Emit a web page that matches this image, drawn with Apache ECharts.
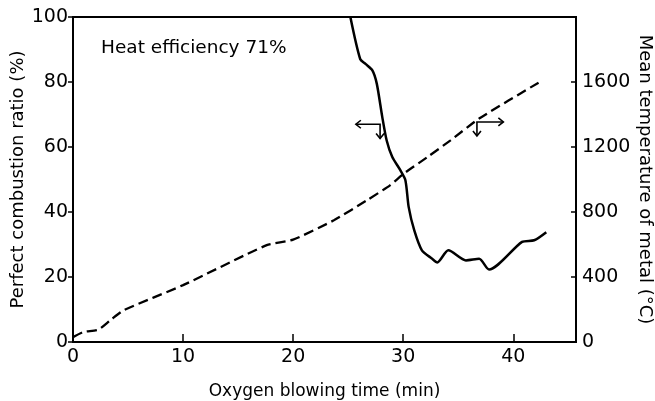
<!DOCTYPE html>
<html><head><meta charset="utf-8">
<script src="https://cdn.jsdelivr.net/npm/echarts@6/dist/echarts.min.js"></script>
<style>html,body{margin:0;padding:0;background:#fff}#c{width:655px;height:401px}</style>
</head><body><div id="c"></div>
<script>
// Data
const xTicks = [0, 10, 20, 30, 40];
const ratioTicks = [0, 20, 40, 60, 80, 100];
const tempTicks = [0, 400, 800, 1200, 1600];
// Perfect combustion ratio (%) vs time (min) — solid, left axis
const ratioTime = [25.2, 26.1, 26.6, 27.2, 27.6, 28.1, 28.5, 29.0, 29.75, 30.2, 30.5, 31.0, 31.7, 32.6, 33.1, 34.1, 35.7, 36.9, 37.8, 40.8, 41.9, 43.0];
const ratioVal  = [100, 87, 85.5, 83.6, 79.5, 69.2, 62, 57, 52.8, 49.8, 41.5, 34.4, 28.2, 25.7, 24.5, 28.2, 25.1, 25.6, 22.3, 30.8, 31.3, 33.8];
// Mean temperature of metal (°C) vs time (min) — dashed, right axis
const tempTime = [0, 0.96, 2.3, 3.4, 4.6, 10, 17.6, 20, 23.7, 26.7, 28.8, 30.05, 32.2, 34.3, 36.9, 42.5];
const tempVal  = [30, 62, 76, 134, 195, 350, 596, 630, 749, 872, 964, 1036, 1138, 1241, 1375, 1604];
// Arrow annotations: [cornerTime, cornerRatio, tipTime, bottomRatio]
const arrowLeft  = [27.9, 67.0, 25.7, 62.6];
const arrowRight = [36.7, 67.7, 39.1, 63.4];
const annotation = 'Heat efficiency 71%';

const FONT = 'DejaVu Sans';
const chart = echarts.init(document.getElementById('c'));
const zip = (a, b) => a.map((v, i) => [v, b[i]]);
const plain = v => String(v);

chart.setOption({
  animation: false,
  backgroundColor: '#fff',
  textStyle: { fontFamily: FONT, color: '#000' },
  grid: { left: 73, right: 79, top: 17, bottom: 59, show: true, borderColor: '#000', borderWidth: 2,
          containLabel: false, outerBoundsMode: 'none' },
  graphic: [{ type: 'text', left: 101, top: 39, style: { text: annotation, font: '18.5px "DejaVu Sans"', fill: '#000' } }],
  xAxis: {
    type: 'value', min: 0, max: 45.7,
    name: 'Oxygen blowing time (min)', nameLocation: 'middle', nameGap: 41, nameMoveOverlap: false,
    nameTextStyle: { fontSize: 17, color: '#000', fontFamily: FONT },
    axisLine: { lineStyle: { color: '#000', width: 2 } },
    axisTick: { inside: true, length: 8, lineStyle: { color: '#000', width: 1.5 }, customValues: xTicks },
    axisLabel: { fontSize: 19, color: '#000', margin: 6, customValues: xTicks, formatter: plain },
    splitLine: { show: false }
  },
  yAxis: [{
    type: 'value', min: 0, max: 100, interval: 20,
    name: 'Perfect combustion ratio (%)', nameLocation: 'middle', nameGap: 46, nameMoveOverlap: false,
    nameTextStyle: { fontSize: 18, color: '#000', fontFamily: FONT },
    axisLine: { show: true, lineStyle: { color: '#000', width: 2 } },
    axisTick: { show: true, length: 5, lineStyle: { color: '#000', width: 1.5 }, customValues: ratioTicks },
    axisLabel: { fontSize: 19, color: '#000', margin: 5, customValues: ratioTicks, formatter: plain },
    splitLine: { show: false }
  }, {
    type: 'value', min: 0, max: 2000, interval: 400, position: 'right',
    name: 'Mean temperature of metal (°C)', nameLocation: 'middle', nameGap: 60, nameRotate: -90, nameMoveOverlap: false,
    nameTextStyle: { fontSize: 18, color: '#000', fontFamily: FONT },
    axisLine: { show: true, lineStyle: { color: '#000', width: 2 } },
    axisTick: { show: true, inside: true, length: 5, lineStyle: { color: '#000', width: 1.5 }, customValues: tempTicks },
    axisLabel: { fontSize: 19, color: '#000', margin: 6, customValues: tempTicks, formatter: plain },
    splitLine: { show: false }
  }],
  series: [{
    type: 'line', yAxisIndex: 0, data: zip(ratioTime, ratioVal), showSymbol: false, smooth: 0.25,
    lineStyle: { color: '#000', width: 2.5 }, clip: true
  }, {
    type: 'line', yAxisIndex: 1, data: zip(tempTime, tempVal), showSymbol: false, smooth: 0.2,
    lineStyle: { color: '#000', width: 2.3, type: [10, 5] }
  }, {
    type: 'custom', yAxisIndex: 0, clip: false,
    data: [arrowLeft, arrowRight],
    encode: { x: [0, 2], y: [1, 3] },
    renderItem: function (params, api) {
      const c = api.coord([api.value(0), api.value(1)]);
      const tip = api.coord([api.value(2), api.value(1)]);
      const bot = api.coord([api.value(0), api.value(3)]);
      const dir = tip[0] < c[0] ? 1 : -1;
      const h = 5;
      const st = { stroke: '#000', lineWidth: 1.6, fill: null };
      return { type: 'group', children: [
        { type: 'polyline', shape: { points: [tip, c, bot] }, style: st },
        { type: 'polyline', shape: { points: [[tip[0] + dir * h, tip[1] - h * 0.8], tip, [tip[0] + dir * h, tip[1] + h * 0.8]] }, style: st },
        { type: 'polyline', shape: { points: [[bot[0] - h * 0.8, bot[1] - h], bot, [bot[0] + h * 0.8, bot[1] - h]] }, style: st }
      ] };
    }
  }]
});
</script></body></html>
